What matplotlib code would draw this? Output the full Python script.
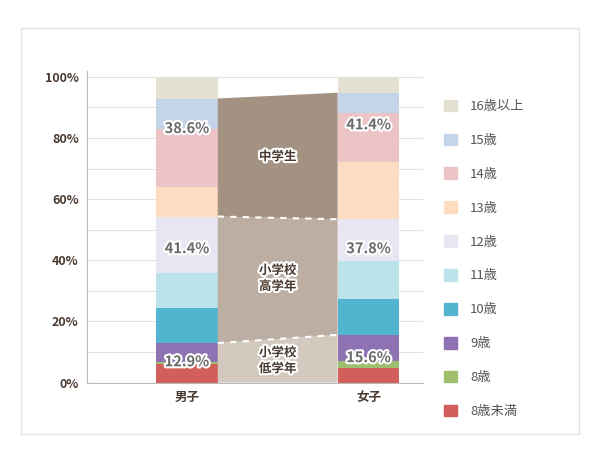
import matplotlib.pyplot as plt
import matplotlib.patheffects as pe
import numpy as np

plt.rcParams['font.family'] = ['Noto Sans CJK JP', 'DejaVu Sans']

groups = ['男子', '女子']
ages = ['8歳未満', '8歳', '9歳', '10歳', '11歳', '12歳', '13歳', '14歳', '15歳', '16歳以上']
boys = [5.9, 0.8, 6.2, 11.6, 11.3, 18.5, 9.8, 18.8, 10.0, 7.1]
girls = [4.9, 2.1, 8.6, 11.8, 12.2, 13.8, 18.6, 16.0, 6.8, 5.2]
colors = ['#d35f5a', '#9dbf6e', '#8e72b3', '#52b5cf', '#bde3ea', '#e8e6f2',
          '#fedcc2', '#ecc4c6', '#c4d5ea', '#e4e1d2']
stages = ['小学校\n低学年', '小学校\n高学年', '中学生']
stage_boys = [12.9, 41.4, 38.6]
stage_girls = [15.6, 37.8, 41.4]
stage_colors = ['#d4c9bf', '#bcaea2', '#a39182']

fig = plt.figure(figsize=(6, 4.62), dpi=100)
fig.patches.append(plt.Rectangle((0.035, 0.06), 0.93, 0.88, transform=fig.transFigure,
                                 fc='white', ec='#e4e4e4', lw=1, zorder=-10))
ax = fig.add_axes([0.145, 0.172, 0.56, 0.675])
ax.patch.set_alpha(0)
x = np.array([0, 1])
w = 0.34
data = [boys, girls]
for i in range(2):
    bottom = 0
    for v, c in zip(data[i], colors):
        ax.bar(x[i], v, w, bottom=bottom, color=c, zorder=2)
        bottom += v

# connector bands between bars
xl, xr = x[0] + w / 2, x[1] - w / 2
cb = np.cumsum([0] + stage_boys)
cg = np.cumsum([0] + stage_girls)
for k in range(3):
    ax.fill([xl, xr, xr, xl], [cb[k], cg[k], cg[k + 1], cb[k + 1]], color=stage_colors[k], zorder=2, lw=0)
    if k > 0:
        ax.plot([xl, xr], [cb[k], cg[k]], ls=(0, (3, 3)), color='white', lw=1.5, zorder=3)
    ym = (cb[k] + cb[k + 1] + cg[k] + cg[k + 1]) / 4
    ax.text(0.5, ym, stages[k], ha='center', va='center', fontsize=9, fontweight='bold',
            color='#4a3a30', linespacing=1.3, zorder=4,
            path_effects=[pe.withStroke(linewidth=3, foreground='white')])

# stage percentages on bars
for i, vals in enumerate([stage_boys, stage_girls]):
    cum = np.cumsum([0] + vals)
    for k in range(3):
        ys = cum[k] + (cum[k + 1] - cum[k]) * 0.75 if k > 0 else cum[k + 1] / 2 + 0.5
        ax.text(x[i], ys, f'{vals[k]:.1f}%', ha='center', va='center', fontsize=10.5,
                fontweight='bold', color='#6a6a6a', zorder=4,
                path_effects=[pe.withStroke(linewidth=3, foreground='white')])

ax.set_xlim(-0.55, 1.3)
ax.set_ylim(0, 102)
ax.set_yticks(range(0, 101, 20))
ax.set_yticklabels([f'{t}%' for t in range(0, 101, 20)], fontsize=9, fontweight='bold', color='#4a3a30')
ax.set_yticks(range(0, 101, 10), minor=True)
ax.grid(axis='y', which='both', color='#e2e2e2', lw=0.8, zorder=0)
ax.set_xticks(x)
ax.set_xticklabels(groups, fontsize=9, fontweight='bold', color='#4a3a30')
ax.tick_params(which='both', length=0, pad=6)
for s in ['top', 'right']:
    ax.spines[s].set_visible(False)
ax.spines['left'].set_color('#bbbbbb')
ax.spines['bottom'].set_color('#bbbbbb')

handles = [plt.Rectangle((0, 0), 1, 1, color=c) for c in colors]
leg = fig.legend(handles[::-1], ages[::-1], loc='upper left', bbox_to_anchor=(0.72, 0.81),
                 frameon=False, fontsize=9.5, handlelength=1.0, handleheight=1.0,
                 labelspacing=1.55, handletextpad=1.0)
for t in leg.get_texts():
    t.set_color('#555555')

fig.savefig('out.png', dpi=100)
